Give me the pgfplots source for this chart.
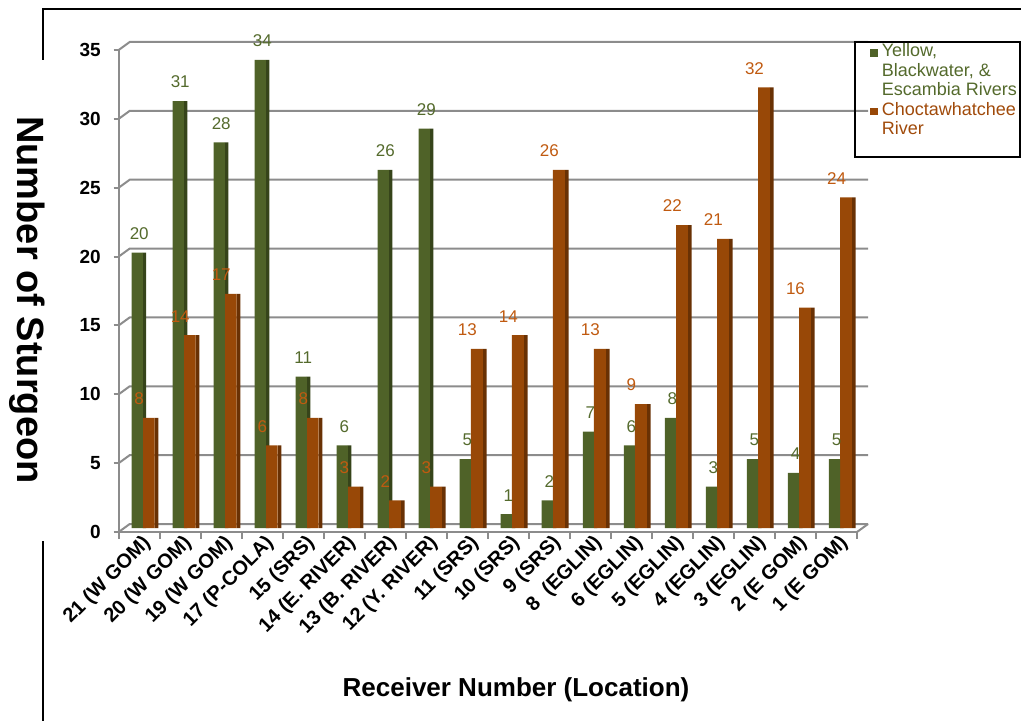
\documentclass[border=0pt]{standalone}
\usepackage{fontspec}
\setmainfont{Liberation Sans}
\usepackage{pgfplots}
\usepackage{pgfplotstable}
\pgfplotsset{compat=1.18}

\definecolor{grn}{HTML}{4F6228}
\definecolor{grnside}{HTML}{36441A}
\definecolor{grnlab}{HTML}{546A2C}
\definecolor{org}{HTML}{984807}
\definecolor{orgside}{HTML}{693104}
\definecolor{orglab}{HTML}{C05A10}
\definecolor{leglab}{HTML}{A04A0A}
\definecolor{gridgray}{HTML}{8C8C8C}

% receivers from west to east; detections per river group
\pgfplotstableread{
x green orange
0  20  8
1  31 14
2  28 17
3  34  6
4  11  8
5   6  3
6  26  2
7  29  3
8   5 13
9   1 14
10  2 26
11  7 13
12  6  9
13  8 22
14  3 21
15  5 32
16  4 16
17  5 24
}\sturgeon

\begin{document}
\begin{tikzpicture}
\begin{scope}[x=0.5pt,y=-0.5pt]
  \useasboundingbox (0,0) rectangle (1021,721);
  % back wall and floor
  \foreach \v in {0,5,...,35} {
    \pgfmathsetmacro\yy{532-\v*13.7714}
    \draw[gridgray, line width=1pt] (118.7,\yy) -- ++(11,-8) -- ++(738.3,0);
  }
  \draw[gridgray, line width=1pt] (857,532) -- ++(11,-8);
  % category separators
  \foreach \i in {0,...,18} {
    \draw[gridgray, line width=1pt] ({118.7+41.0167*\i},532) -- ++(0,7);
  }
  % outer frame
  \draw[black, line width=1.3pt] (43,60) -- (43,9) -- (1021,9);
  \draw[black, line width=1.3pt] (43,541) -- (43,721);
  % axis titles
  \node[rotate=-90, font=\bfseries\fontsize{19}{22}\selectfont] at (27,300) {Number of Sturgeon};
  \node[font=\bfseries\fontsize{13}{15}\selectfont] at (516,690) {Receiver Number (Location)};
  % legend
  \draw[black, line width=0.8pt] (855,42) rectangle (1020,157);
  \node[anchor=north west, inner sep=0pt, font=\fontsize{9}{9.75}\selectfont] at (870,42.5) {%
    \begin{tabular}{@{}l@{\hspace{2pt}}l@{}}
      \textcolor{grn}{\rule{3.7pt}{3.7pt}} & \textcolor{grnlab}{Yellow,}\\
       & \textcolor{grnlab}{Blackwater, \&}\\
       & \textcolor{grnlab}{Escambia Rivers}\\
      \textcolor{org}{\rule{3.7pt}{3.7pt}} & \textcolor{leglab}{Choctawhatchee}\\
       & \textcolor{leglab}{River}
    \end{tabular}};
\end{scope}

\begin{axis}[
  at={(59.35pt,-266pt)}, anchor=south west,
  scale only axis, width=369.15pt, height=241pt,
  xmin=-0.5, xmax=17.5, ymin=0, ymax=35,
  clip=false,
  axis x line*=bottom, axis y line*=left,
  axis line style={gridgray, line width=1pt},
  tick align=outside, major tick length=2.5pt,
  xtick={0,...,17},
  xticklabels={{21 (W GOM)},{20 (W GOM)},{19 (W GOM)},{17 (P-COLA)},{15 (SRS)},
    {14 (E. RIVER)},{13 (B. RIVER)},{12 (Y. RIVER)},{11 (SRS)},{10 (SRS)},{9 (SRS)},
    {8\ \ (EGLIN)},{6 (EGLIN)},{5 (EGLIN)},{4 (EGLIN)},{3 (EGLIN)},{2 (E GOM)},{1 (E GOM)}},
  xtick style={draw=none},
  ytick={0,5,...,35},
  ytick style={gridgray, line width=1pt},
  ticklabel style={font=\bfseries\fontsize{9.5}{10}\selectfont},
  xticklabel style={rotate=45, anchor=east, font=\bfseries\fontsize{10}{11}\selectfont,
    inner sep=1pt, xshift=3pt, yshift=-4pt},
  yticklabel style={xshift=-3pt},
  /pgf/number format/assume math mode=true,
]
  % dark side faces
  \addplot[ybar, bar width=0.083, bar shift=0.13, fill=grnside, draw=none, yshift=2pt]
    table[x=x, y=green] {\sturgeon};
  \addplot[ybar, bar width=0.09, bar shift=0.423, fill=orgside, draw=none, yshift=2pt]
    table[x=x, y=orange] {\sturgeon};
  % front faces with values
  \addplot[ybar, bar width=0.29, bar shift=0.232, fill=org, draw=none, yshift=2pt,
    nodes near coords,
    nodes near coords style={font=\fontsize{8.5}{9}\selectfont, text=orglab, anchor=south, yshift=3pt}]
    table[x=x, y=orange] {\sturgeon};
  \addplot[ybar, bar width=0.273, bar shift=-0.05, fill=grn, draw=none, yshift=2pt,
    nodes near coords,
    nodes near coords style={font=\fontsize{8.5}{9}\selectfont, text=grnlab, anchor=south, yshift=3pt}]
    table[x=x, y=green] {\sturgeon};
\end{axis}
\end{tikzpicture}
\end{document}
